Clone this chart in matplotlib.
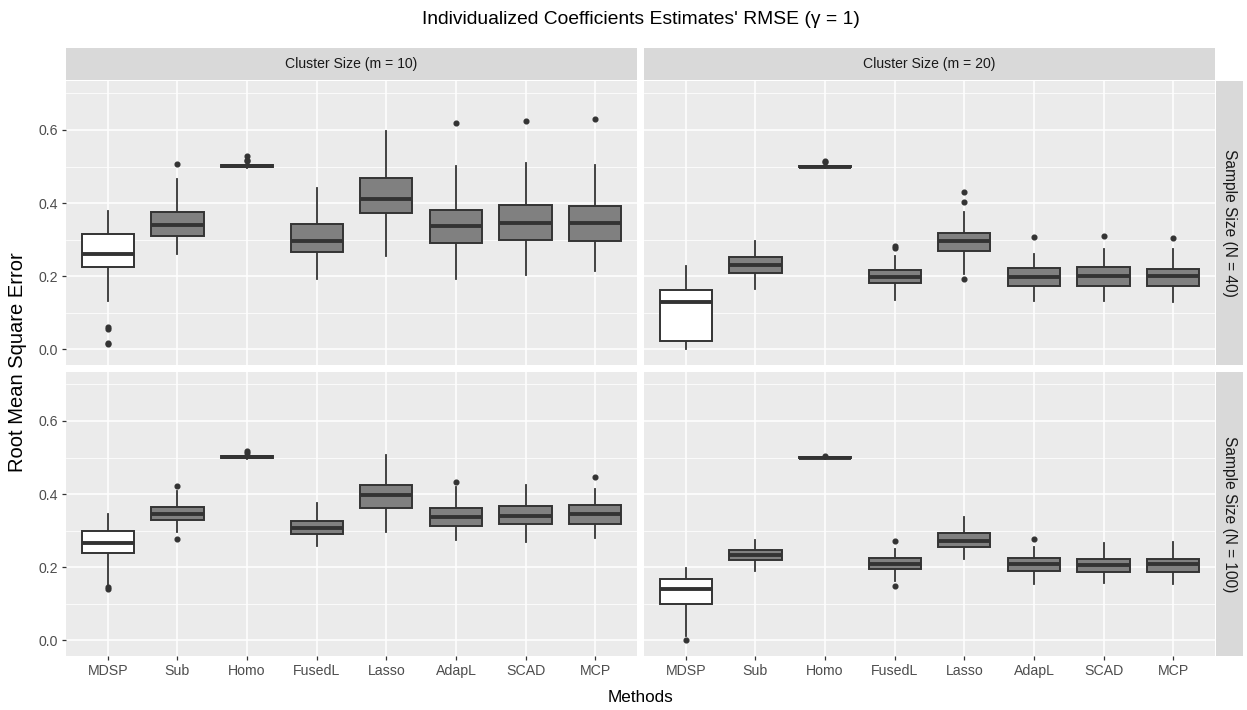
import numpy as np
import matplotlib
matplotlib.use('Agg')
import matplotlib.pyplot as plt

plt.rcParams['font.family'] = ['Liberation Sans', 'DejaVu Sans']

methods = ['MDSP', 'Sub', 'Homo', 'FusedL', 'Lasso', 'AdapL', 'SCAD', 'MCP']

# cluster size m = 10, N = 40
lo_10_40 = [0.133, 0.262, 0.496, 0.192, 0.255, 0.191, 0.204, 0.214]
q1_10_40 = [0.224, 0.311, 0.499, 0.266, 0.374, 0.292, 0.298, 0.295]
md_10_40 = [0.260, 0.340, 0.501, 0.296, 0.412, 0.337, 0.345, 0.346]
q3_10_40 = [0.315, 0.376, 0.503, 0.342, 0.469, 0.380, 0.396, 0.393]
hi_10_40 = [0.378, 0.465, 0.507, 0.442, 0.596, 0.502, 0.510, 0.505]
out_10_40 = [[0.062, 0.055, 0.014, 0.018], [0.508], [0.514, 0.518, 0.528], [], [], [0.619], [0.625], [0.630]]

# m = 20, N = 40
lo_20_40 = [0.000, 0.165, 0.497, 0.136, 0.205, 0.133, 0.131, 0.128]
q1_20_40 = [0.022, 0.209, 0.499, 0.182, 0.268, 0.173, 0.173, 0.174]
md_20_40 = [0.129, 0.231, 0.500, 0.198, 0.295, 0.198, 0.200, 0.201]
q3_20_40 = [0.162, 0.252, 0.502, 0.217, 0.319, 0.222, 0.224, 0.220]
hi_20_40 = [0.229, 0.295, 0.505, 0.256, 0.376, 0.262, 0.275, 0.273]
out_20_40 = [[], [], [0.512, 0.516], [0.276, 0.282], [0.430, 0.404, 0.191], [0.307], [0.309], [0.304]]

# m = 10, N = 100
lo_10_100 = [0.147, 0.297, 0.497, 0.259, 0.295, 0.275, 0.268, 0.281]
q1_10_100 = [0.238, 0.329, 0.499, 0.290, 0.363, 0.312, 0.318, 0.317]
md_10_100 = [0.265, 0.345, 0.501, 0.306, 0.397, 0.336, 0.341, 0.346]
q3_10_100 = [0.298, 0.365, 0.503, 0.326, 0.425, 0.361, 0.367, 0.370]
hi_10_100 = [0.345, 0.409, 0.506, 0.375, 0.506, 0.420, 0.426, 0.415]
out_10_100 = [[0.145, 0.141], [0.422, 0.278], [0.512, 0.517], [], [], [0.434], [], [0.447]]

# m = 20, N = 100
lo_20_100 = [0.011, 0.190, 0.497, 0.163, 0.222, 0.155, 0.157, 0.155]
q1_20_100 = [0.100, 0.219, 0.499, 0.195, 0.256, 0.190, 0.188, 0.188]
md_20_100 = [0.139, 0.233, 0.500, 0.210, 0.272, 0.208, 0.206, 0.208]
q3_20_100 = [0.167, 0.246, 0.502, 0.225, 0.293, 0.225, 0.222, 0.223]
hi_20_100 = [0.199, 0.275, 0.504, 0.249, 0.336, 0.256, 0.267, 0.269]
out_20_100 = [[0.002], [], [0.505], [0.272, 0.149], [], [0.277], [], []]

panels = [
    (0, 0, lo_10_40, q1_10_40, md_10_40, q3_10_40, hi_10_40, out_10_40),
    (0, 1, lo_20_40, q1_20_40, md_20_40, q3_20_40, hi_20_40, out_20_40),
    (1, 0, lo_10_100, q1_10_100, md_10_100, q3_10_100, hi_10_100, out_10_100),
    (1, 1, lo_20_100, q1_20_100, md_20_100, q3_20_100, hi_20_100, out_20_100),
]
col_strips = ['Cluster Size (m = 10)', 'Cluster Size (m = 20)']
row_strips = ['Sample Size (N = 40)', 'Sample Size (N = 100)']

W, H = 1247, 710
fig = plt.figure(figsize=(W / 100, H / 100), dpi=100)

def px_axes(x0, y0, x1, y1):
    return fig.add_axes([x0 / W, 1 - y1 / H, (x1 - x0) / W, (y1 - y0) / H])

col_x = [(66, 637), (644, 1215)]
row_y = [(81, 365), (372, 656)]
dark = '#333333'

for r, c, lo, q1, md, q3, hi, out in panels:
    x0, x1 = col_x[c]
    y0, y1 = row_y[r]
    ax = px_axes(x0, y0, x1, y1)
    ax.set_facecolor('#EBEBEB')
    stats = []
    for i in range(len(methods)):
        stats.append(dict(whislo=lo[i], q1=q1[i], med=md[i], q3=q3[i], whishi=hi[i], fliers=out[i]))
    bp = ax.bxp(stats, positions=np.arange(1, 9), widths=0.75, showcaps=False, patch_artist=True,
                boxprops=dict(edgecolor=dark, linewidth=1.4),
                medianprops=dict(color=dark, linewidth=2.8, solid_capstyle='butt'),
                whiskerprops=dict(color=dark, linewidth=1.3),
                flierprops=dict(marker='o', markerfacecolor=dark, markeredgecolor=dark, markersize=3.4))
    for i, b in enumerate(bp['boxes']):
        b.set_facecolor('white' if i == 0 else '#808080')
        b.set_zorder(3)
    for m in bp['medians']:
        m.set_zorder(4)
    ax.set_xlim(0.4, 8.6)
    ax.set_ylim(-0.043, 0.734)
    ax.set_yticks([0.0, 0.2, 0.4, 0.6])
    ax.set_yticks([0.1, 0.3, 0.5, 0.7], minor=True)
    ax.set_xticks(np.arange(1, 9))
    ax.grid(True, which='major', color='white', linewidth=1.1)
    ax.grid(True, which='minor', axis='y', color='white', linewidth=0.55)
    ax.set_axisbelow(True)
    for s in ax.spines.values():
        s.set_visible(False)
    ax.tick_params(which='major', length=3, width=0.9, color=dark, labelcolor='#4D4D4D', labelsize=10.2, pad=3)
    ax.tick_params(which='minor', length=0)
    if c == 0:
        ax.set_yticklabels(['0.0', '0.2', '0.4', '0.6'])
    else:
        ax.set_yticklabels([])
        ax.tick_params(axis='y', length=0)
    if r == 1:
        ax.set_xticklabels(methods)
    else:
        ax.set_xticklabels([])
        ax.tick_params(axis='x', length=0)

# column strips
for c, label in enumerate(col_strips):
    x0, x1 = col_x[c]
    sax = px_axes(x0, 48, x1, 80)
    sax.set_facecolor('#D9D9D9')
    sax.set_xticks([])
    sax.set_yticks([])
    for s in sax.spines.values():
        s.set_visible(False)
    sax.text(0.5, 0.5, label, ha='center', va='center', fontsize=10.1, color='#1A1A1A',
             transform=sax.transAxes)

# row strips
for r, label in enumerate(row_strips):
    y0, y1 = row_y[r]
    sax = px_axes(1216, y0, 1243, y1)
    sax.set_facecolor('#D9D9D9')
    sax.set_xticks([])
    sax.set_yticks([])
    for s in sax.spines.values():
        s.set_visible(False)
    sax.text(0.5, 0.5, label, ha='center', va='center', rotation=-90, fontsize=11.2, color='#1A1A1A',
             transform=sax.transAxes)

fig.text((66 + 1215) / 2 / W, 1 - 19 / H, "Individualized Coefficients Estimates' RMSE (\u03b3 = 1)",
         ha='center', va='center', fontsize=13.9)
fig.text((66 + 1215) / 2 / W, 1 - 697 / H, 'Methods', ha='center', va='center', fontsize=12.3)
fig.text(18 / W, 1 - 362 / H, 'Root Mean Square Error', ha='center', va='center', rotation=90, fontsize=14.5)

plt.savefig('out.png', dpi=100)
